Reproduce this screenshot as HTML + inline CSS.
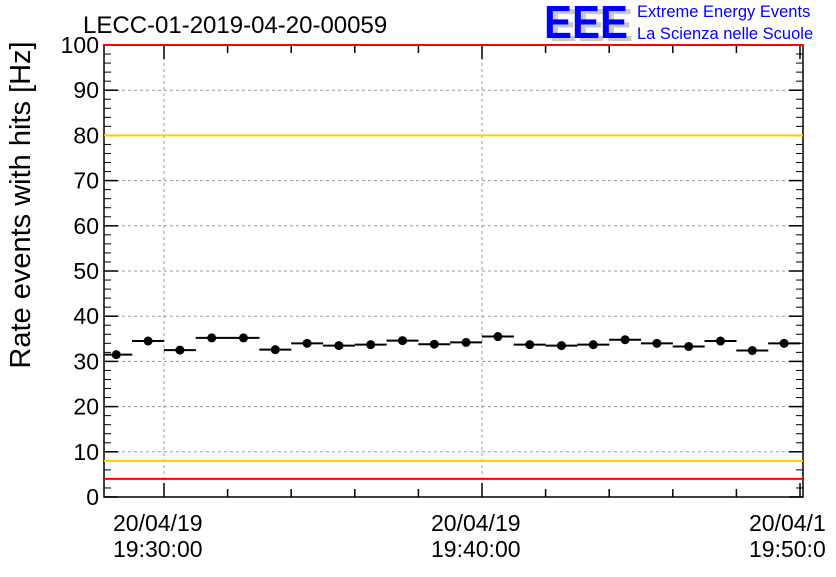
<!DOCTYPE html>
<html><head><meta charset="utf-8"><style>
body{margin:0;background:#fff;}
svg text{font-family:"Liberation Sans",sans-serif;}
</style></head><body>
<svg id="c" width="836" height="572" viewBox="0 0 836 572" xmlns="http://www.w3.org/2000/svg">
<rect width="836" height="572" fill="#fff"/>
<text x="83" y="33" font-size="24">LECC-01-2019-04-20-00059</text>
<g>
<text x="549" y="41" font-size="46" font-weight="bold" fill="#c8c8c8" textLength="84" lengthAdjust="spacingAndGlyphs">EEE</text>
<text x="544" y="38" font-size="46" font-weight="bold" fill="#0000ff" textLength="84" lengthAdjust="spacingAndGlyphs">EEE</text>
<text x="637" y="17" font-size="16.5" fill="#0000ff">Extreme Energy Events</text>
<text x="637" y="39" font-size="16.5" fill="#0000ff">La Scienza nelle Scuole</text>
</g>
<text transform="translate(30,205) rotate(-90)" text-anchor="middle" font-size="29">Rate events with hits [Hz]</text>
<g id="grid"></g><g id="axes"></g><g id="marks"></g>
</svg>
<script>
const values=[31.5,34.5,32.5,35.2,35.2,32.6,34,33.5,33.7,34.6,33.8,34.2,35.5,33.7,33.5,33.7,34.8,34,33.3,34.5,32.4,34];
const yTicks=[0,10,20,30,40,50,60,70,80,90,100];
const xTickMinutes=[30,40,50];
const xTickDate=["20/04/19","20/04/19","20/04/1"];
const xTickTime=["19:30:00","19:40:00","19:50:0"];
const limitsRed=[100,4], limitsOrange=[80,8];
const firstBinMin=28.5;
const L=104,R=803,T=45,B=497;
const y=v=>B-(v/100)*(B-T);
const x=m=>164+(m-30)*31.8;
const NS="http://www.w3.org/2000/svg";
function mk(tag,a,p){const e=document.createElementNS(NS,tag);for(const k in a)e.setAttribute(k,a[k]);p.appendChild(e);return e;}
const grid=document.getElementById('grid'),axes=document.getElementById('axes'),marks=document.getElementById('marks');
yTicks.forEach(t=>{
 if(t>0&&t<100){const g=mk('line',{x1:L,x2:R,y1:y(t),y2:y(t),stroke:'#999','stroke-dasharray':'3,3','stroke-width':1},grid);
 
 }
 const tl=mk('text',{x:L-5,y:y(t)+8,'text-anchor':'end','font-size':23},axes);tl.textContent=t;
 
 
 mk('line',{x1:L,x2:L+14,y1:y(t),y2:y(t),stroke:'#000','stroke-width':1.5},axes);
 mk('line',{x1:R,x2:R-14,y1:y(t),y2:y(t),stroke:'#000','stroke-width':1.5},axes);
 if(t<100){for(let k=1;k<5;k++){const yy=y(t+k*2);
  mk('line',{x1:L,x2:L+7,y1:yy,y2:yy,stroke:'#000'},axes);
  mk('line',{x1:R,x2:R-7,y1:yy,y2:yy,stroke:'#000'},axes);}}
});
xTickMinutes.forEach((m,i)=>{
 if(x(m)<R-5){const g=mk('line',{x1:x(m),x2:x(m),y1:T,y2:B,stroke:'#999','stroke-dasharray':'3,3'},grid);
 
 }
 const t1=mk('text',{x:x(m)-51,y:531,'font-size':23},axes);t1.textContent=xTickDate[i];
 
 
 const t2=mk('text',{x:x(m)-51,y:557,'font-size':23},axes);t2.textContent=xTickTime[i];
 
 
});
for(let m=28;m<=50;m+=2){const xx=x(m);if(xx<L||xx>R)continue;const big=m%10===0;
 mk('line',{x1:xx,x2:xx,y1:B,y2:B-(big?14:8),stroke:'#000','stroke-width':1.5},axes);
 mk('line',{x1:xx,x2:xx,y1:T,y2:T+(big?14:8),stroke:'#000','stroke-width':1.5},axes);}
const fr=mk('rect',{x:L,y:T,width:R-L,height:B-T,fill:'none',stroke:'#000','stroke-width':1.5},axes);


limitsRed.forEach(v=>{const l=mk('line',{x1:L,x2:R,y1:y(v),y2:y(v),stroke:'#ff0000','stroke-width':2},marks);
 
 });
limitsOrange.forEach(v=>{const l=mk('line',{x1:L,x2:R,y1:y(v),y2:y(v),stroke:'#ffcc00','stroke-width':2},marks);
 
 });
values.forEach((v,i)=>{const cx=x(firstBinMin+i),cy=y(v);
 const b=mk('line',{x1:Math.max(L,cx-16),x2:Math.min(R,cx+16),y1:cy,y2:cy,stroke:'#000','stroke-width':2},marks);
 
 
 const c=mk('circle',{cx:cx,cy:cy,r:4.5,fill:'#000'},marks);
 
 });
</script>
</body></html>
